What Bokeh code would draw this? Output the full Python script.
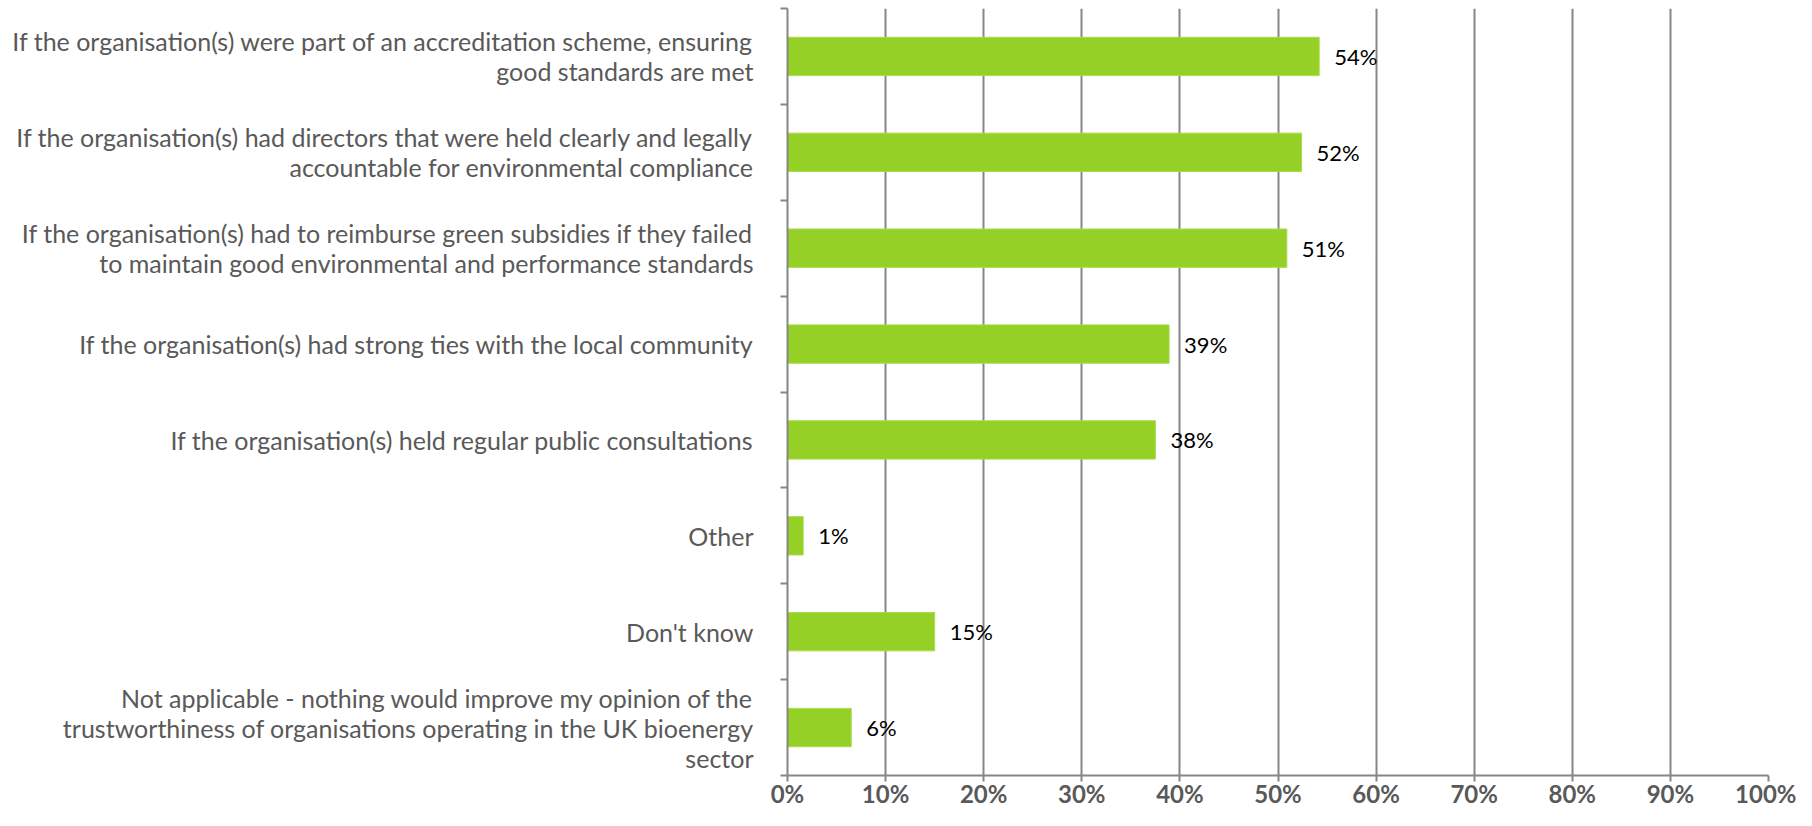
from bokeh.plotting import figure
from bokeh.models import Range1d, FixedTicker
from bokeh.core.properties import value
from bokeh.embed import file_html
from bokeh.resources import INLINE

categories = [
    "If the organisation(s) were part of an accreditation scheme, ensuring\ngood standards are met",
    "If the organisation(s) had directors that were held clearly and legally\naccountable for environmental compliance",
    "If the organisation(s) had to reimburse green subsidies if they failed\nto maintain good environmental and performance standards",
    "If the organisation(s) had strong ties with the local community",
    "If the organisation(s) held regular public consultations",
    "Other",
    "Don't know",
    "Not applicable - nothing would improve my opinion of the\ntrustworthiness of organisations operating in the UK bioenergy\nsector",
]
values = [54.2, 52.4, 50.9, 38.9, 37.5, 1.6, 15.0, 6.5]
value_labels = ["54%", "52%", "51%", "39%", "38%", "1%", "15%", "6%"]
x_ticks = [0, 10, 20, 30, 40, 50, 60, 70, 80, 90, 100]
x_tick_labels = ["0%", "10%", "20%", "30%", "40%", "50%", "60%", "70%", "80%", "90%", "100%"]

n = len(categories)
ypos = [n - 1 - i for i in range(n)]

p = figure(width=1796, height=810, output_backend="svg", toolbar_location=None,
           x_range=Range1d(0, 100), y_range=Range1d(-0.5, n - 0.5),
           min_border_left=787, min_border_right=28, min_border_top=8, min_border_bottom=30)
p.outline_line_color = None
p.background_fill_color = "white"

p.hbar(y=ypos, right=values, left=0, height=0.4, fill_color="#95D026", line_color="#A8DC4C", line_width=1)
p.text(x=values, y=ypos, text=value_labels, x_offset=15, text_baseline="middle",
       text_font=value("Lato"), text_font_size="22px", text_color="black")

# x axis
p.xaxis.ticker = FixedTicker(ticks=x_ticks)
p.xaxis.major_label_overrides = {t: l for t, l in zip(x_ticks, x_tick_labels)}
p.xaxis.axis_line_color = "#868686"
p.xaxis.axis_line_width = 2
p.xaxis.major_tick_line_color = "#868686"
p.xaxis.major_tick_line_width = 2
p.xaxis.major_tick_in = 0
p.xaxis.major_tick_out = 6
p.xaxis.minor_tick_line_color = None
p.xaxis.major_label_standoff = -3
p.xaxis.major_label_text_font = "Lato"
p.xaxis.major_label_text_font_style = "bold"
p.xaxis.major_label_text_font_size = "24px"
p.xaxis.major_label_text_color = "#595959"

# y axis
p.yaxis.ticker = FixedTicker(ticks=ypos, minor_ticks=[k - 0.5 for k in range(n + 1)])
p.yaxis.major_label_overrides = {y: c for y, c in zip(ypos, categories)}
p.yaxis.axis_line_color = "#868686"
p.yaxis.axis_line_width = 2
p.yaxis.major_tick_line_color = None
p.yaxis.major_tick_out = 0
p.yaxis.major_tick_in = 0
p.yaxis.minor_tick_line_color = "#868686"
p.yaxis.minor_tick_line_width = 2
p.yaxis.minor_tick_out = 7
p.yaxis.minor_tick_in = 0
p.yaxis.major_label_standoff = 27
p.yaxis.major_label_text_font = "Lato"
p.yaxis.major_label_text_font_size = "25px"
p.yaxis.major_label_text_color = "#595959"
p.yaxis.major_label_text_line_height = 1.0

p.xgrid.ticker = FixedTicker(ticks=x_ticks)
p.xgrid.grid_line_color = "#868686"
p.xgrid.grid_line_width = 2
p.ygrid.grid_line_color = None

open("out.html", "w").write(file_html(p, INLINE))
